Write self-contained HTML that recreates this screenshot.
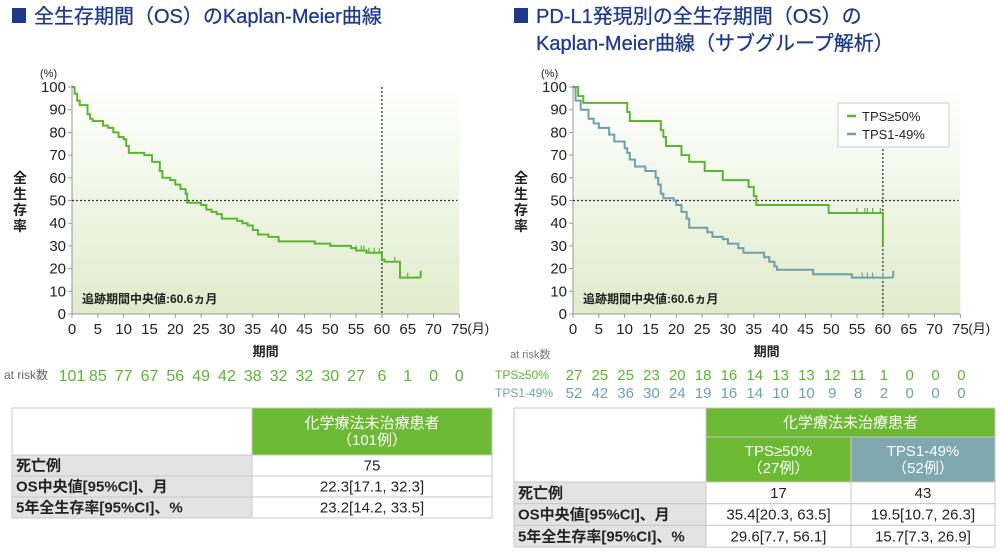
<!DOCTYPE html>
<html><head><meta charset="utf-8">
<style>
body{margin:0;width:1000px;height:554px;background:#fff;overflow:hidden;font-family:"Liberation Sans","Noto Sans CJK JP",sans-serif;}
svg{position:absolute;left:0;top:0}
text{font-family:"Liberation Sans","Noto Sans CJK JP",sans-serif}
</style></head><body>
<svg id="s" width="1000" height="554" viewBox="0 0 1000 554" xmlns="http://www.w3.org/2000/svg">
<defs>
<linearGradient id="g" x1="0" y1="0" x2="0" y2="1">
<stop offset="0" stop-color="#ffffff"/><stop offset="1" stop-color="#dfeccb"/>
</linearGradient>
</defs>
<rect x="12" y="8" width="14" height="15" fill="#1e3a8a"/>
<text x="34" y="23" font-size="20" fill="#1e3a8a" stroke="#1e3a8a" stroke-width="0.3">全生存期間（OS）のKaplan-Meier曲線</text>
<rect x="514" y="8" width="14" height="15" fill="#1e3a8a"/>
<text x="536" y="23" font-size="20" fill="#1e3a8a" stroke="#1e3a8a" stroke-width="0.3">PD-L1発現別の全生存期間（OS）の</text>
<text x="536" y="50" font-size="20" fill="#1e3a8a" stroke="#1e3a8a" stroke-width="0.3">Kaplan-Meier曲線（サブグループ解析）</text>
<g id="charts"></g>
</svg>
<script>
var NS="http://www.w3.org/2000/svg",G=document.getElementById("charts");
function el(t,a,txt){var e=document.createElementNS(NS,t);for(var k in a)e.setAttribute(k,a[k]);if(txt!=null)e.textContent=txt;G.appendChild(e);return e;}
function chart(x0){
 var X=function(t){return x0+t*5.165},Y=function(p){return 314-p*2.27};
 el("rect",{x:x0,y:Y(100),width:X(75)-x0,height:Y(0)-Y(100),fill:"url(#g)"});
 el("line",{x1:x0,y1:Y(100)-2,x2:x0,y2:314,stroke:"#999","stroke-width":1});
 el("line",{x1:x0,y1:314,x2:X(75),y2:314,stroke:"#999","stroke-width":1});
 for(var i=0;i<=10;i++){el("line",{x1:x0-4,y1:Y(i*10),x2:x0,y2:Y(i*10),stroke:"#999"});
  el("text",{x:x0-6,y:Y(i*10)+5,"font-size":15,"text-anchor":"end",fill:"#222"},i*10);}
 for(var i=0;i<=15;i++){el("line",{x1:X(i*5),y1:314,x2:X(i*5),y2:318,stroke:"#999"});
  el("text",{x:X(i*5),y:334,"font-size":15,"text-anchor":"middle",fill:"#222"},i*5);}
 el("text",{x:X(75)+8,y:333,"font-size":13,fill:"#222"},"(月)");
 el("text",{x:x0-32,y:77,"font-size":11,fill:"#222"},"(%)");
 el("text",{x:X(37.5),y:356,"font-size":13,"font-weight":"bold","text-anchor":"middle",fill:"#222"},"期間");
 var yl=["全","生","存","率"];for(var i=0;i<4;i++)el("text",{x:x0-52,y:183+i*16,"font-size":14,"font-weight":"bold","text-anchor":"middle",fill:"#222"},yl[i]);
 el("line",{x1:x0,y1:Y(50),x2:X(75)-2,y2:Y(50),stroke:"#333","stroke-dasharray":"2,2","stroke-width":1.3});
 el("text",{x:x0+10,y:303,"font-size":12,"font-weight":"bold",fill:"#222"},"追跡期間中央値:60.6ヵ月");
 return [X,Y];
}
function step(X,Y,pts,col){var d="M"+X(pts[0][0])+","+Y(pts[0][1]);for(var i=1;i<pts.length;i++){d+="H"+X(pts[i][0])+"V"+Y(pts[i][1]);}
 el("path",{d:d,fill:"none",stroke:col,"stroke-width":2});}
function ticks(X,Y,arr,col){arr.forEach(function(a){el("line",{x1:X(a[0]),y1:Y(a[1]),x2:X(a[0]),y2:Y(a[1])-5,stroke:col,"stroke-width":1.2});});}
var GR="#5cb531",BL="#6fa0ae";
var L=chart(72),X=L[0],Y=L[1];
el("line",{x1:X(60),y1:Y(100),x2:X(60),y2:314,stroke:"#333","stroke-dasharray":"2,2","stroke-width":1.3});
step(X,Y,[[0,100],[0.5,97],[1,94],[1.5,92],[3,88],[3.5,86],[4,85],[6,83],[7,82],[8,80],[9,78],[10,77],[10.5,74],[11,71],[14,70],[15.5,67],[17,63],[17.5,60],[19,59],[20,57],[21,55],[22,53],[22.3,49],[25,48],[26,46],[27,45],[28,44],[29,42],[32,41],[33,40],[34,39],[35,37],[36,35],[38,34],[40,32],[47,31],[50,30],[54,29],[55,28],[57,27],[59,27],[60,24],[60.5,23],[63.5,16],[67.5,16]],GR);
el("line",{x1:X(67.5),y1:Y(16),x2:X(67.5),y2:Y(19),stroke:GR,"stroke-width":2});
ticks(X,Y,[[55,28],[56,28],[56.5,28],[57.5,27],[58.5,27],[59.5,27],[60,25],[62.5,23],[65,16]],GR);
var ar=[101,85,77,67,56,49,42,38,32,32,30,27,6,1,0,0];
el("text",{x:4,y:379,"font-size":12,fill:"#666"},"at risk数");
ar.forEach(function(v,i){el("text",{x:X(i*5),y:381,"font-size":16,"text-anchor":"middle",fill:GR},v);});
var R=chart(573);X=R[0];Y=R[1];
el("line",{x1:X(60),y1:145,x2:X(60),y2:314,stroke:"#333","stroke-dasharray":"2,2","stroke-width":1.3});
step(X,Y,[[0,100],[0.5,94],[1.5,90],[3,86],[4,84],[5,82],[7,79],[8,76],[10,73],[10.5,71],[11,68],[12,65],[14,63],[16,60],[16.5,57],[17,53],[17.5,51],[19.5,50],[20,48],[21,45],[22,42],[22.5,38],[26,36],[27,34],[29,33],[30,31],[32,29],[33,27],[37,25],[38,23],[39,21],[39.5,19.5],[46.5,17.5],[54,16],[62,16]],BL);
el("line",{x1:X(62),y1:Y(16),x2:X(62),y2:Y(19),stroke:BL,"stroke-width":2});
ticks(X,Y,[[56,16],[57,16],[58,16],[60,16]],BL);
step(X,Y,[[0,100],[1,96],[2,93],[10.5,89],[11,85],[17,81],[17.5,78],[18,74],[21,70],[22.5,67],[25.5,63],[29,59],[34,56],[35,52],[35.5,48],[49.5,44.5],[60,44.5],[60,30]],GR);
ticks(X,Y,[[55,44.5],[56.5,44.5],[57,44.5],[58,44.5],[59.5,44.5]],GR);
el("rect",{x:838,y:103,width:111,height:44,fill:"#fff",stroke:"#ccc","stroke-width":1});
el("line",{x1:847,y1:116,x2:856,y2:116,stroke:GR,"stroke-width":2.5});
el("line",{x1:847,y1:134,x2:856,y2:134,stroke:BL,"stroke-width":2.5});
el("text",{x:862,y:121,"font-size":13,fill:"#222"},"TPS≥50%");
el("text",{x:862,y:139,"font-size":13,fill:"#222"},"TPS1-49%");
el("text",{x:510,y:358,"font-size":11,fill:"#777"},"at risk数");
el("text",{x:495,y:379,"font-size":12,fill:GR},"TPS≥50%");
el("text",{x:495,y:397,"font-size":12,fill:BL},"TPS1-49%");
var a1=[27,25,25,23,20,18,16,14,13,13,12,11,1,0,0,0],a2=[52,42,36,30,24,19,16,14,10,10,9,8,2,0,0,0];
a1.forEach(function(v,i){el("text",{x:X(i*5)+1,y:380,"font-size":15,"text-anchor":"middle",fill:GR},v);});
a2.forEach(function(v,i){el("text",{x:X(i*5)+1,y:398,"font-size":15,"text-anchor":"middle",fill:BL},v);});
function cell(x,y,w,h,fill,lines,col,anchor,bold){el("rect",{x:x,y:y,width:w,height:h,fill:fill,stroke:"#c8c8c8","stroke-width":1});
 var n=lines.length;lines.forEach(function(t,i){el("text",{x:anchor=="start"?x+4:x+w/2,y:y+h/2+5+(i-(n-1)/2)*17,"font-size":15,"text-anchor":anchor||"middle",fill:col,"font-weight":bold?"bold":"normal"},t);});}
var GC="#6cb933",TC="#7ea7ae",GY="#e3e3e3";
cell(12,408,240,47,"#fff",[],"#222");
cell(252,408,240,47,GC,["化学療法未治療患者","（101例）"],"#fff");
var rl=["死亡例","OS中央値[95%CI]、月","5年全生存率[95%CI]、%"],rv=["75","22.3[17.1, 32.3]","23.2[14.2, 33.5]"];
for(var i=0;i<3;i++){cell(12,455+i*21,240,21,GY,[rl[i]],"#222","start",true);cell(252,455+i*21,240,21,"#fff",[rv[i]],"#222");}
cell(514,408,192,74,"#fff",[],"#222");
cell(706,408,289,29,GC,["化学療法未治療患者"],"#fff");
cell(706,437,145,45,GC,["TPS≥50%","（27例）"],"#fff");
cell(851,437,144,45,TC,["TPS1-49%","（52例）"],"#fff");
var v1=["17","35.4[20.3, 63.5]","29.6[7.7, 56.1]"],v2=["43","19.5[10.7, 26.3]","15.7[7.3, 26.9]"];
for(var i=0;i<3;i++){cell(514,482+i*21.7,192,21.7,GY,[rl[i]],"#222","start",true);cell(706,482+i*21.7,145,21.7,"#fff",[v1[i]],"#222");cell(851,482+i*21.7,144,21.7,"#fff",[v2[i]],"#222");}
</script>
</body></html>
